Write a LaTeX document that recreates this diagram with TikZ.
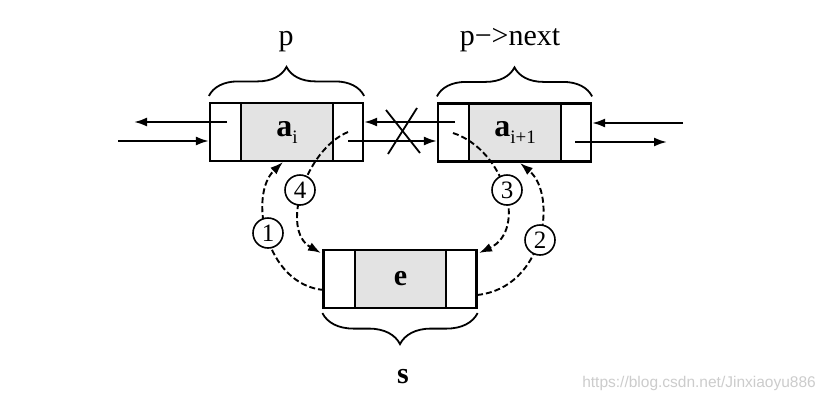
\documentclass[tikz,border=0pt]{standalone}
\usepackage{fontspec}
\setmainfont{Liberation Serif}
\newfontfamily\wmfont{Liberation Sans}
\usetikzlibrary{arrows.meta,decorations.pathreplacing}
\begin{document}
\begin{tikzpicture}[x=1pt,y=-1pt,
  outer/.style={draw,line width=2.2pt,minimum width=153pt,minimum height=58pt,inner sep=0pt},
  datacell/.style={draw,line width=2.2pt,fill=gray!22,minimum width=92pt,minimum height=58pt,inner sep=0pt,font=\fontsize{32}{34}\selectfont\bfseries},
  ptr/.style={line width=2.1pt,-{Latex[length=13pt,width=9pt]}},
  dashptr/.style={line width=1.9pt,dash pattern=on 6pt off 3pt,-{Latex[length=13pt,width=9pt]}},
  brc/.style={decorate,decoration={brace,amplitude=29pt},line width=1.8pt},
  brcm/.style={decorate,decoration={brace,mirror,amplitude=31pt},line width=1.8pt},
  lbl/.style={inner sep=0pt,font=\fontsize{30}{32}\selectfont},
  num/.style={circle,draw,line width=1.6pt,fill=white,inner sep=0pt,minimum size=30pt,font=\fontsize{25}{25}\selectfont}]
\useasboundingbox (0,0) rectangle (824,402);
\fill[white] (0,0) rectangle (824,402);

% list nodes
\node[outer] (p) at (286.5,132) {};
\node[datacell] (pd) at (287,132) {a\raisebox{-7pt}{\fontsize{19}{19}\selectfont\mdseries i}};
\node[outer] (q) at (514.5,132.5) {};
\node[datacell] (qd) at (515,132.5) {a\raisebox{-7pt}{\fontsize{19}{19}\selectfont\mdseries i+1}};
\node[outer] (e) at (400,279) {};
\node[datacell,minimum width=91pt,font=\fontsize{30}{32}\selectfont\bfseries] (ed) at (400.5,279) {e};

% braces and labels
\draw[brc] ([yshift=6pt]p.north west) -- ([yshift=6pt]p.north east);
\draw[brc] ([yshift=6pt]q.north west) -- ([yshift=6pt]q.north east);
\draw[brcm] ([yshift=-4pt]e.south west) -- ([yshift=-4pt]e.south east);
\node[lbl] (plbl) at (286,42) {p};
\node[lbl] (qlbl) at (510,40) {p−>next};
\node[lbl,font=\fontsize{30}{32}\selectfont\bfseries] (slbl) at (403,377) {s};

% coordinates for free pointer ends
\coordinate (pin) at (227,122);
\coordinate (lout) at (134,122);
\coordinate (lin) at (118,141);
\coordinate (pout) at (348,141);
\coordinate (qin) at (455,122);
\coordinate (qout) at (575,142);
\coordinate (rout) at (667,142);
\coordinate (rin) at (683,123);

% solid pointers
\draw[ptr] (pin) -- (lout);
\draw[ptr] (lin) -- (lin -| p.west);
\draw[ptr] (qin) -- (qin -| p.east);
\draw[ptr] (pout) -- (pout -| q.west);
\draw[ptr] (rin) -- (rin -| q.east);
\draw[ptr] (qout) -- (rout);

% the cross
\draw[line width=1.8pt] (386,110) -- (420,153);
\draw[line width=1.8pt] (388,154) -- (417,108);

% dashed new links
\coordinate (e1) at (324,290);
\coordinate (p4) at (348,132);
\coordinate (q3) at (453,133);
\coordinate (e2) at (477,295);
\draw[dashptr] (e1) .. controls (265,285) and (248,195) .. (283,162);
\draw[dashptr] (p4) .. controls (305,150) and (280,230) .. (321,253);
\draw[dashptr] (q3) .. controls (505,150) and (528,230) .. (479,253);
\draw[dashptr] (e2) .. controls (545,288) and (558,195) .. (520,163);

\node[num] (n1) at (268,233) {1};
\node[num] (n4) at (300,190) {4};
\node[num] (n3) at (507,190) {3};
\node[num] (n2) at (540,240) {2};

\node[anchor=east,inner sep=0pt,text=gray!40,font=\wmfont\fontsize{15.5}{16}\selectfont] (wm) at (816,383) {https://blog.csdn.net/Jinxiaoyu886};
\end{tikzpicture}
\end{document}
